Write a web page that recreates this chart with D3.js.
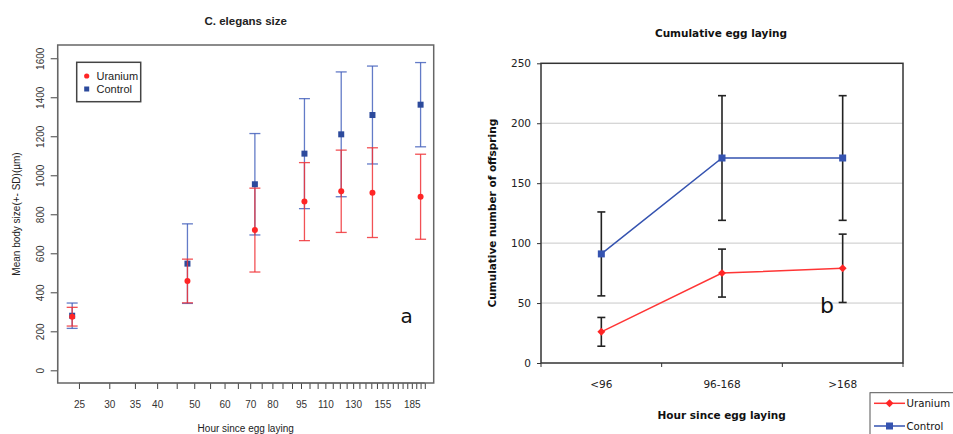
<!DOCTYPE html>
<html><head><meta charset="utf-8">
<script src="https://cdn.jsdelivr.net/npm/d3@7"></script>
<style>body{margin:0;background:#fff;} svg{display:block;}</style>
</head><body>
<svg id="c" width="953" height="434"></svg>
<script>
// ---------- Panel a data ----------
const sizeHours = [24, 48, 72, 97, 121, 146, 195];
const controlSize = [280, 547, 954, 1111, 1210, 1309, 1362];
const controlSD   = [65, 204, 260, 282, 320, 251, 216];
const uraniumSize = [275, 458, 719, 865, 918, 911, 890];
const uraniumSD   = [48, 112, 215, 200, 211, 230, 218];
const sizeTicks = d3.range(25, 201, 5);
const sizeTickLabels = [25, 30, 35, 40, 50, 60, 70, 80, 95, 110, 130, 155, 185];
const sizeYTicks = [0, 200, 400, 600, 800, 1000, 1200, 1400, 1600];

// ---------- Panel b data ----------
const eggCats = ["<96", "96-168", ">168"];
const eggControl = [91, 171, 171];
const eggControlErr = [35, 52, 52];
const eggUranium = [26, 75, 79];
const eggUraniumErr = [12, 20, 28.5];
const eggYTicks = [0, 50, 100, 150, 200, 250];

const svg = d3.select("#c");

// ================= Panel a =================
const A = {l: 57.7, r: 433.7, t: 45, b: 383};
const xL = d3.scaleLog().domain([22, 211]).range([A.l, A.r]);
const yL = d3.scaleLinear().domain([-65, 1668]).range([A.b, A.t]);
const fA = "Liberation Sans, Arial, sans-serif";
const gA = svg.append("g");

gA.append("text").attr("x", 245.7).attr("y", 25).attr("text-anchor", "middle")
  .attr("font-family", fA).attr("font-weight", "bold").attr("font-size", 11.5).attr("fill", "#222")
  .text("C. elegans size");

// axes
const yAxisL = gA.append("g").attr("transform", `translate(${A.l},0)`)
  .call(d3.axisLeft(yL).tickValues(sizeYTicks).tickSize(7).tickSizeOuter(0).tickFormat(d3.format("d")));
yAxisL.select(".domain").attr("stroke", "#555").attr("stroke-width", 1)
  .attr("d", `M0,${yL(0)}V${yL(1600)}`);
yAxisL.selectAll(".tick line").attr("stroke", "#444");
yAxisL.selectAll(".tick text").attr("font-family", fA).attr("font-size", 10).attr("fill", "#333")
  .attr("text-anchor", "middle").attr("x", null)
  .attr("transform", `translate(-17.5,0) rotate(-90)`).attr("y", 0).attr("dy", "0.35em");

const xAxisL = gA.append("g").attr("transform", `translate(0,${A.b})`)
  .call(d3.axisBottom(xL).tickValues(sizeTicks).tickSize(6).tickSizeOuter(0)
    .tickFormat(d => sizeTickLabels.includes(d) ? d : ""));
xAxisL.select(".domain").attr("stroke", "#555").attr("d", `M${xL(25)},0H${xL(200)}`);
xAxisL.selectAll(".tick line").attr("stroke", "#444");
xAxisL.selectAll(".tick text").attr("font-family", fA).attr("font-size", 10).attr("fill", "#333")
  .attr("y", 21).attr("dy", "0.35em");

gA.append("rect").attr("x", A.l).attr("y", A.t).attr("width", A.r - A.l).attr("height", A.b - A.t)
  .attr("fill", "none").attr("stroke", "#666").attr("stroke-width", 1.5);

gA.append("text").attr("transform", `translate(16,${(A.t + A.b) / 2}) rotate(-90)`)
  .attr("text-anchor", "middle").attr("dy", "0.35em")
  .attr("font-family", fA).attr("font-size", 10).attr("fill", "#222")
  .text("Mean body size(+- SD)(µm)");
gA.append("text").attr("x", 245.7).attr("y", 432).attr("text-anchor", "middle")
  .attr("font-family", fA).attr("font-size", 10).attr("fill", "#222")
  .text("Hour since egg laying");

function errBarsA(means, sds, color) {
  const g = gA.append("g").attr("stroke", color).attr("stroke-width", 1.3);
  sizeHours.forEach((h, i) => {
    const x = xL(h), y1 = yL(means[i] + sds[i]), y0 = yL(means[i] - sds[i]);
    g.append("line").attr("x1", x).attr("x2", x).attr("y1", y1).attr("y2", y0);
    g.append("line").attr("x1", x - 5.5).attr("x2", x + 5.5).attr("y1", y1).attr("y2", y1);
    g.append("line").attr("x1", x - 5.5).attr("x2", x + 5.5).attr("y1", y0).attr("y2", y0);
  });
}
errBarsA(controlSize, controlSD, "rgba(60,90,185,0.8)");
gA.append("g").selectAll("rect").data(sizeHours).join("rect")
  .attr("x", d => xL(d) - 3).attr("y", (d, i) => yL(controlSize[i]) - 3)
  .attr("width", 6).attr("height", 6).attr("fill", "#2c4a9c");
errBarsA(uraniumSize, uraniumSD, "rgba(240,50,55,0.85)");
gA.append("g").selectAll("circle").data(sizeHours).join("circle")
  .attr("cx", d => xL(d)).attr("cy", (d, i) => yL(uraniumSize[i])).attr("r", 3)
  .attr("fill", "#ff2525");

// legend a
gA.append("rect").attr("x", 76.7).attr("y", 62.3).attr("width", 64).attr("height", 39.4)
  .attr("fill", "#fff").attr("stroke", "#444").attr("stroke-width", 1.5);
gA.append("circle").attr("cx", 86.7).attr("cy", 76).attr("r", 2.6).attr("fill", "#ff2525");
gA.append("rect").attr("x", 84.2).attr("y", 86.5).attr("width", 5).attr("height", 5).attr("fill", "#2c4a9c");
gA.append("text").attr("x", 96.5).attr("y", 80).attr("font-family", fA).attr("font-size", 11).attr("fill", "#222").text("Uranium");
gA.append("text").attr("x", 96.5).attr("y", 93).attr("font-family", fA).attr("font-size", 11).attr("fill", "#222").text("Control");

gA.append("text").attr("x", 406.7).attr("y", 322.7).attr("text-anchor", "middle")
  .attr("font-family", "DejaVu Sans, sans-serif").attr("font-size", 20).attr("fill", "#111").text("a");

// ================= Panel b =================
const B = {l: 541, r: 903, t: 63.3, b: 363};
const xR = d3.scaleBand().domain(eggCats).range([B.l, B.r]);
const yR = d3.scaleLinear().domain([0, 250]).range([B.b, B.t]);
const fB = "DejaVu Sans, Verdana, sans-serif";
const gB = svg.append("g");

gB.append("text").attr("x", 721).attr("y", 37).attr("text-anchor", "middle")
  .attr("font-family", fB).attr("font-weight", "bold").attr("font-size", 10.5).attr("fill", "#111")
  .text("Cumulative egg laying");

gB.append("g").selectAll("line").data(eggYTicks.filter(d => d > 0 && d < 250)).join("line")
  .attr("x1", B.l).attr("x2", B.r).attr("y1", d => yR(d)).attr("y2", d => yR(d))
  .attr("stroke", "#c8c8c8").attr("stroke-width", 1);

const yAxisR = gB.append("g").attr("transform", `translate(${B.l},0)`)
  .call(d3.axisLeft(yR).tickValues(eggYTicks).tickSize(4).tickSizeOuter(0));
yAxisR.select(".domain").remove();
yAxisR.selectAll(".tick line").attr("stroke", "#333");
yAxisR.selectAll(".tick text").attr("font-family", fB).attr("font-size", 10.5).attr("fill", "#222").attr("x", -10);

const xAxisR = gB.append("g").attr("transform", `translate(0,${B.b})`)
  .call(d3.axisBottom(xR).tickSize(0).tickSizeOuter(0));
xAxisR.select(".domain").remove();
xAxisR.selectAll(".tick text").attr("font-family", fB).attr("font-size", 10.5).attr("fill", "#222")
  .attr("y", 21).attr("dy", "0.35em");
gB.append("g").selectAll("line").data(d3.range(eggCats.length + 1)).join("line")
  .attr("x1", i => B.l + i * xR.step()).attr("x2", i => B.l + i * xR.step())
  .attr("y1", B.b).attr("y2", B.b + 4).attr("stroke", "#333");

gB.append("rect").attr("x", B.l).attr("y", B.t).attr("width", B.r - B.l).attr("height", B.b - B.t)
  .attr("fill", "none").attr("stroke", "#333").attr("stroke-width", 1.5);

gB.append("text").attr("transform", `translate(492,${(B.t + B.b) / 2}) rotate(-90)`)
  .attr("text-anchor", "middle").attr("dy", "0.35em")
  .attr("font-family", fB).attr("font-weight", "bold").attr("font-size", 10.5).attr("fill", "#111")
  .text("Cumulative number of offspring");
gB.append("text").attr("x", 721.7).attr("y", 419).attr("text-anchor", "middle")
  .attr("font-family", fB).attr("font-weight", "bold").attr("font-size", 10.5).attr("fill", "#111")
  .text("Hour since egg laying");

const cx = c => xR(c) + xR.bandwidth() / 2;
const lineGen = vals => d3.line().x((d, i) => cx(eggCats[i])).y(d => yR(d))(vals);

function errBarsB(means, errs) {
  const g = gB.append("g").attr("stroke", "#222").attr("stroke-width", 1.6);
  eggCats.forEach((c, i) => {
    const x = cx(c), y1 = yR(means[i] + errs[i]), y0 = yR(means[i] - errs[i]);
    g.append("line").attr("x1", x).attr("x2", x).attr("y1", y1).attr("y2", y0);
    g.append("line").attr("x1", x - 4).attr("x2", x + 4).attr("y1", y1).attr("y2", y1);
    g.append("line").attr("x1", x - 4).attr("x2", x + 4).attr("y1", y0).attr("y2", y0);
  });
}
errBarsB(eggControl, eggControlErr);
errBarsB(eggUranium, eggUraniumErr);

gB.append("path").attr("d", lineGen(eggControl)).attr("fill", "none").attr("stroke", "#3553b0").attr("stroke-width", 1.5);
gB.append("path").attr("d", lineGen(eggUranium)).attr("fill", "none").attr("stroke", "#ff3535").attr("stroke-width", 1.5);

gB.append("g").selectAll("rect").data(eggCats).join("rect")
  .attr("x", c => cx(c) - 3.5).attr("y", (c, i) => yR(eggControl[i]) - 3.5)
  .attr("width", 7).attr("height", 7).attr("fill", "#3553b0");
const diamond = d3.symbol().type(d3.symbolDiamond2).size(40);
gB.append("g").selectAll("path").data(eggCats).join("path")
  .attr("transform", (c, i) => `translate(${cx(c)},${yR(eggUranium[i])})`)
  .attr("d", diamond).attr("fill", "#ff2525");

gB.append("text").attr("x", 827).attr("y", 313).attr("text-anchor", "middle")
  .attr("font-family", "DejaVu Sans, sans-serif").attr("font-size", 22).attr("fill", "#111").text("b");

// legend b
gB.append("rect").attr("x", 870).attr("y", 392.7).attr("width", 100).attr("height", 60)
  .attr("fill", "#fff").attr("stroke", "#555").attr("stroke-width", 1);
gB.append("line").attr("x1", 874).attr("x2", 905).attr("y1", 403.3).attr("y2", 403.3).attr("stroke", "#ff3535").attr("stroke-width", 1.5);
gB.append("path").attr("transform", "translate(889.5,403.3)").attr("d", diamond).attr("fill", "#ff2525");
gB.append("line").attr("x1", 874).attr("x2", 905).attr("y1", 426).attr("y2", 426).attr("stroke", "#3553b0").attr("stroke-width", 1.5);
gB.append("rect").attr("x", 886).attr("y", 422.5).attr("width", 7).attr("height", 7).attr("fill", "#3553b0");
gB.append("text").attr("x", 906.5).attr("y", 407.3).attr("font-family", fB).attr("font-size", 10.2).attr("fill", "#111").text("Uranium");
gB.append("text").attr("x", 906.5).attr("y", 430).attr("font-family", fB).attr("font-size", 10.2).attr("fill", "#111").text("Control");
</script>
</body></html>
